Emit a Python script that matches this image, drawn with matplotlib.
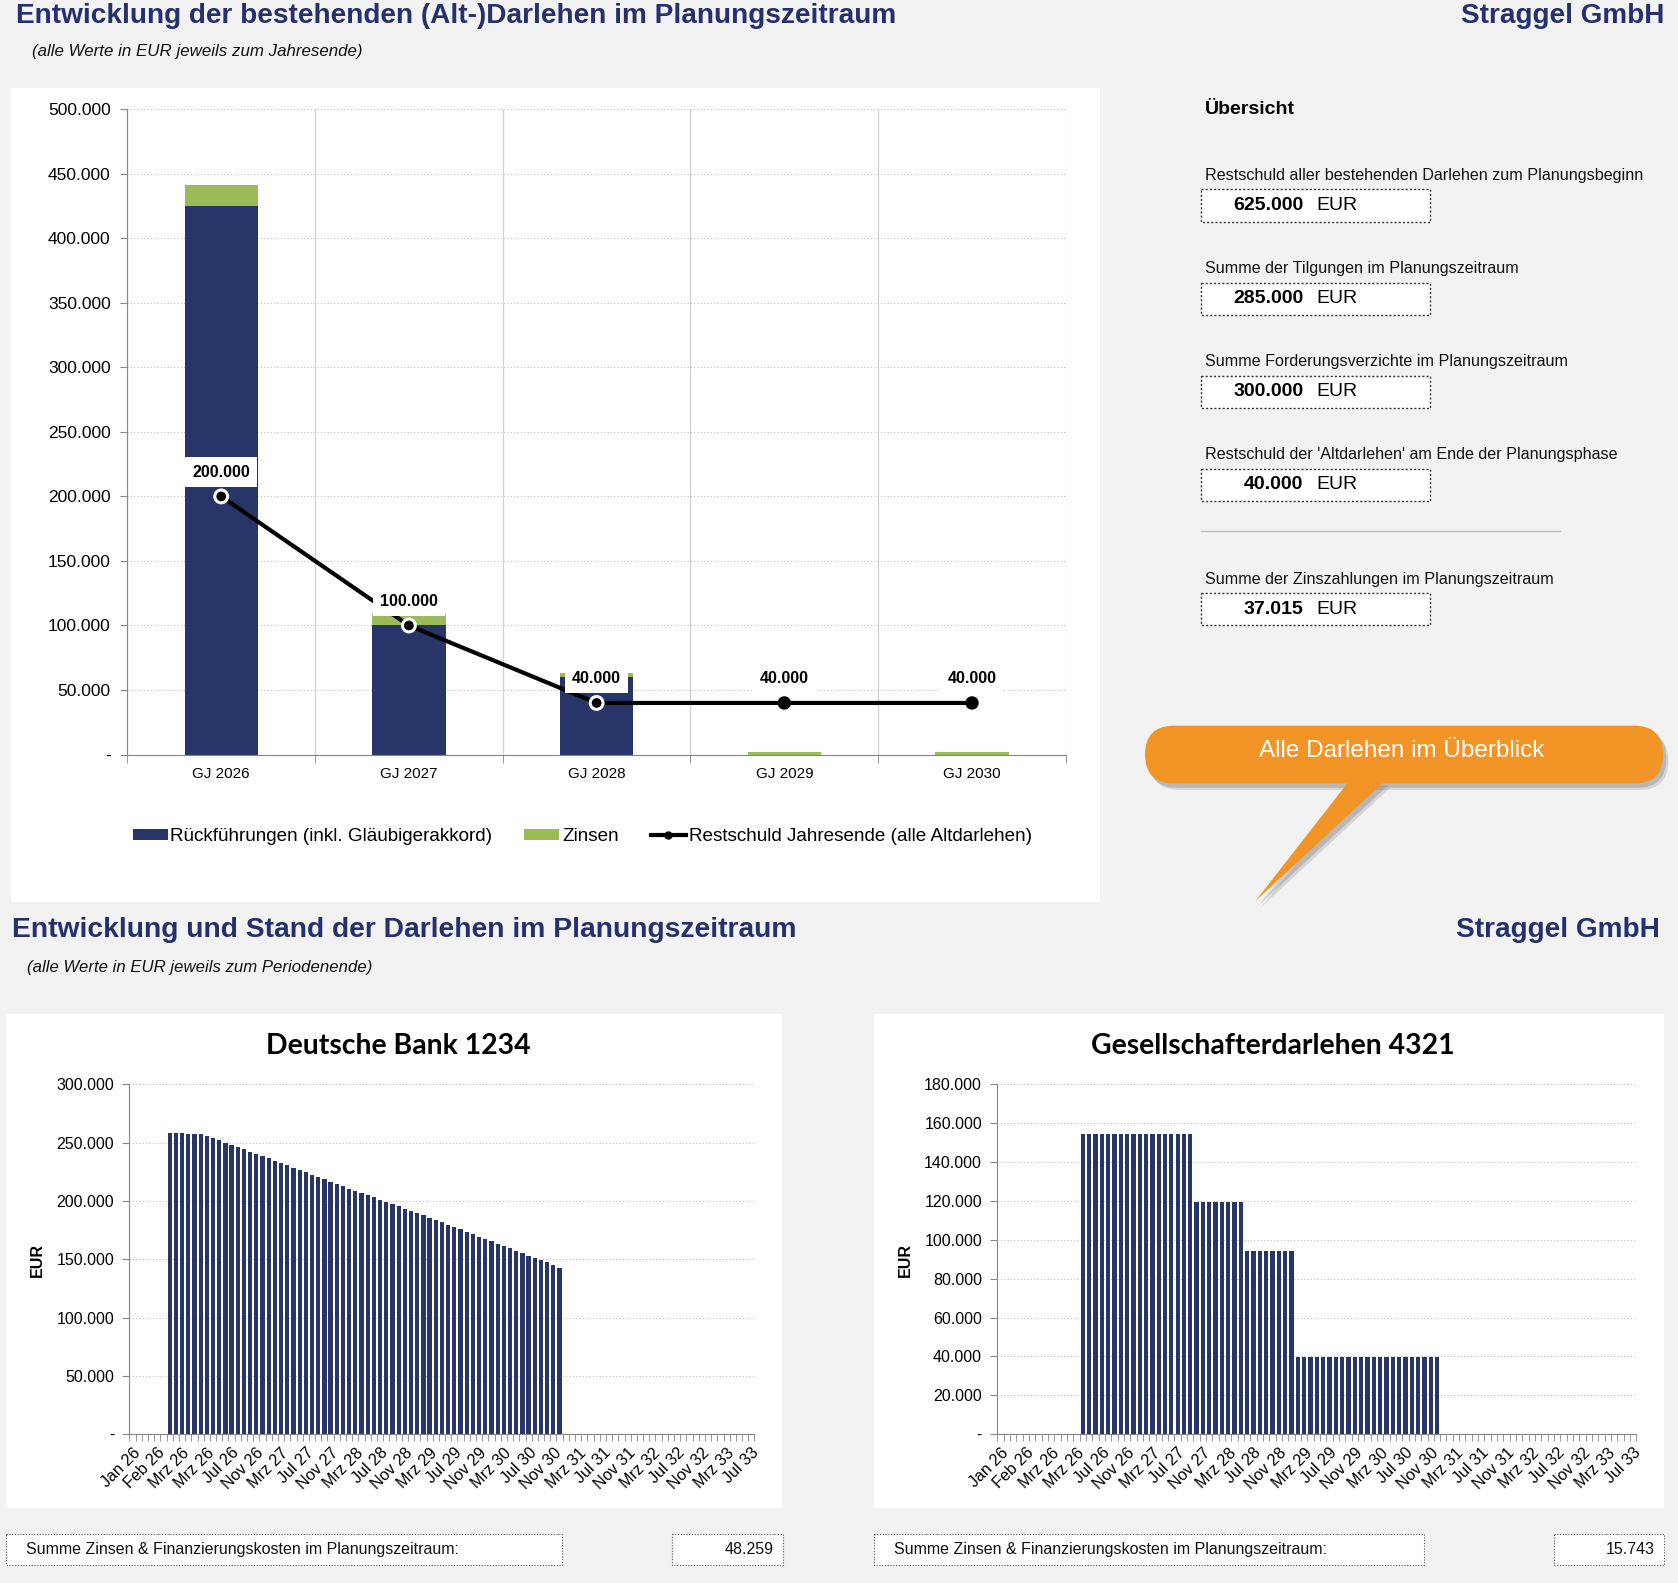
import matplotlib
matplotlib.use('Agg')
import matplotlib.pyplot as plt
from matplotlib.patches import Rectangle, FancyBboxPatch, Polygon
from matplotlib.lines import Line2D
from matplotlib.ticker import FuncFormatter
import numpy as np

plt.rcParams['font.family'] = ['Liberation Sans', 'DejaVu Sans']

# ---------------- data ----------------
years = ["GJ 2026", "GJ 2027", "GJ 2028", "GJ 2029", "GJ 2030"]
rueckfuehrungen = [425000, 100000, 60000, 0, 0]
zinsen = [16000, 8800, 3000, 2300, 2300]
restschuld = [200000, 100000, 40000, 40000, 40000]

legend_labels = ["Rückführungen (inkl. Gläubigerakkord)", "Zinsen",
                 "Restschuld Jahresende (alle Altdarlehen)"]

overview_labels = ["Restschuld aller bestehenden Darlehen zum Planungsbeginn",
                   "Summe der Tilgungen im Planungszeitraum",
                   "Summe Forderungsverzichte im Planungszeitraum",
                   "Restschuld der 'Altdarlehen' am Ende der Planungsphase",
                   "Summe der Zinszahlungen im Planungszeitraum"]
overview_values = ["625.000", "285.000", "300.000", "40.000", "37.015"]

month_labels = ["Jan 26", "Feb 26", "Mrz 26", "Mrz 26", "Jul 26", "Nov 26",
                "Mrz 27", "Jul 27", "Nov 27", "Mrz 28", "Jul 28", "Nov 28",
                "Mrz 29", "Jul 29", "Nov 29", "Mrz 30", "Jul 30", "Nov 30",
                "Mrz 31", "Jul 31", "Nov 31", "Mrz 32", "Jul 32", "Nov 32",
                "Mrz 33", "Jul 33"]
n_periods = 101
label_step = 4

db_title = "Deutsche Bank 1234"
db_start = 6
db_values = [258000, 258000, 258000, 257100, 257100, 257100, 255400, 253700, 252000, 249400,
             247700, 246000, 244300, 241700, 240000, 238300, 236600, 234000, 232300, 230600,
             228100, 226400, 224600, 222100, 220400, 218700, 216100, 214400, 212700, 210100,
             208400, 206700, 205000, 203300, 200700, 199000, 197300, 195600, 193000, 191300,
             189600, 187900, 185300, 183600, 181900, 179300, 177600, 175900, 173400, 171700,
             169100, 167400, 165700, 163100, 161400, 159700, 157100, 155400, 152800, 151100,
             149300, 147300, 145000, 142500]
db_sum = "48.259"

gs_title = "Gesellschafterdarlehen 4321"
gs_start = 13
gs_values = [154500, 154500, 154500, 154500, 154500, 154500, 154500, 154500, 154500,
             154500, 154500, 154500, 154500, 154500, 154500, 154500, 154500, 154500,
             119500, 119500, 119500, 119500, 119500, 119500, 119500, 119500,
             94000, 94000, 94000, 94000, 94000, 94000, 94000, 94000,
             39800, 39800, 39800, 39800, 39800, 39800, 39800, 39800, 39800, 39800,
             39800, 39800, 39800, 39800, 39800, 39800, 39800, 39800, 39800, 39800,
             39800, 39800, 39800]
gs_sum = "15.743"
sum_label = "Summe Zinsen & Finanzierungskosten im Planungszeitraum:"

# ---------------- style ----------------
NAVY = '#283569'
GREEN = '#9BBB59'
TITLE = '#25316A'
GRAY = '#868686'
GRID = '#BFBFBF'
BG = '#F2F2F2'
ORANGE = '#F39426'

W, H = 1568.0, 1479.0  # layout reference units


def rect(x0, y0, x1, y1):
    return [x0 / W, 1 - y1 / H, (x1 - x0) / W, (y1 - y0) / H]


def de(v, p=None):
    if abs(v) < 1e-9:
        return '-'
    return f"{v:,.0f}".replace(',', '.')


fig = plt.figure(figsize=(16.78, 15.83), dpi=100, facecolor=BG)
bg = fig.add_axes([0, 0, 1, 1], zorder=-10)
bg.set_xlim(0, W)
bg.set_ylim(H, 0)
bg.axis('off')

# panels
for (x0, y0, x1, y1) in [(10, 82, 1028, 843), (6, 947, 731, 1409), (817, 947, 1555, 1409)]:
    bg.add_patch(Rectangle((x0, y0), x1 - x0, y1 - y0, fc='white', ec='none'))

# headings
bg.text(15, 15, "Entwicklung der bestehenden (Alt-)Darlehen im Planungszeitraum",
        fontsize=20.2, fontweight='bold', color=TITLE, va='center', ha='left')
bg.text(1555, 15, "Straggel GmbH", fontsize=20.1, fontweight='bold', color=TITLE,
        va='center', ha='right')
bg.text(30, 48, "(alle Werte in EUR jeweils zum Jahresende)", fontsize=12.2,
        style='italic', va='center', ha='left', color='#111111')
bg.text(11, 869, "Entwicklung und Stand der Darlehen im Planungszeitraum",
        fontsize=20.3, fontweight='bold', color=TITLE, va='center', ha='left')
bg.text(1551, 869, "Straggel GmbH", fontsize=20.2, fontweight='bold', color=TITLE,
        va='center', ha='right')
bg.text(25, 904, "(alle Werte in EUR jeweils zum Periodenende)", fontsize=12.1,
        style='italic', va='center', ha='left', color='#111111')

# ---------------- top chart ----------------
ax = fig.add_axes(rect(119, 102, 996, 705))
x = np.arange(len(years))
ax.bar(x, rueckfuehrungen, width=0.39, color=NAVY, zorder=2)
ax.bar(x, zinsen, bottom=rueckfuehrungen, width=0.39, color=GREEN, zorder=2)
ax.plot(x, restschuld, color='black', lw=3, zorder=3)
on_bar = [r >= v for r, v in zip(rueckfuehrungen, restschuld)]
edge = ['white' if b else 'black' for b in on_bar]
sizes = [85 if b else 55 for b in on_bar]
ax.scatter(x, restschuld, s=sizes, c='black', edgecolors=edge, linewidths=2.2, zorder=4)
for xi, v in zip(x, restschuld):
    ax.annotate(de(v), (xi, v), xytext=(0, 17.5), textcoords='offset points',
                ha='center', va='center', fontsize=11.5, fontweight='bold',
                bbox=dict(boxstyle='square,pad=0.45', fc='white', ec='none'), zorder=5)
ax.set_xlim(-0.5, len(years) - 0.5)
ax.set_ylim(0, 500000)
ax.set_yticks(np.arange(0, 500001, 50000))
ax.yaxis.set_major_formatter(FuncFormatter(de))
ax.set_xticks(x)
ax.set_xticklabels(years)
ax.set_xticks(np.arange(-0.5, len(years), 1), minor=True)
ax.tick_params(axis='x', which='major', length=0, labelsize=11, pad=9)
ax.tick_params(axis='x', which='minor', length=6, color=GRAY, direction='out')
ax.tick_params(axis='y', length=5, color=GRAY, labelsize=12.5, pad=7)
ax.grid(axis='y', color=GRID, lw=0.8, ls=(0, (1, 2)), zorder=0)
ax.grid(axis='x', which='minor', color='#D0D0D0', lw=0.9, ls='-', zorder=0)
ax.set_axisbelow(True)
for s in ['top', 'right']:
    ax.spines[s].set_visible(False)
for s in ['left', 'bottom']:
    ax.spines[s].set_color(GRAY)

handles = [Rectangle((0, 0), 1, 1, fc=NAVY, ec='none'),
           Rectangle((0, 0), 1, 1, fc=GREEN, ec='none'),
           Line2D([], [], color='black', lw=3, marker='o', markersize=5)]
fig.legend(handles, legend_labels, loc='center', bbox_to_anchor=(544 / W, 1 - 782 / H),
           ncol=3, frameon=False, fontsize=13.6, handlelength=1.85, handleheight=0.55,
           handletextpad=0.15, columnspacing=1.7)

# ---------------- overview panel ----------------
bg.text(1126, 102, "Übersicht", fontsize=14, fontweight='bold', va='center', ha='left')
label_y = [164, 251, 338, 425, 541]
for lab, val, ly in zip(overview_labels, overview_values, label_y):
    bg.text(1126, ly, lab, fontsize=11.6, va='center', ha='left', color='#111111')
    by = ly + 13
    bg.add_patch(Rectangle((1122, by), 214, 30, fc='white', ec='#333333', lw=1, ls=(0, (1.5, 1.5))))
    bg.text(1218, by + 15, val, fontsize=14, fontweight='bold', va='center', ha='right')
    bg.text(1230, by + 15, "EUR", fontsize=14, va='center', ha='left')
bg.plot([1122, 1458], [496, 496], color='#BFBFBF', lw=1)

# callout
for off, a in [((5, 6), 0.25), ((3, 4), 0.35)]:
    bg.add_patch(FancyBboxPatch((1070 + off[0], 678 + off[1]), 484, 54,
                                boxstyle="round,pad=0,rounding_size=27",
                                fc='#7F7F7F', ec='none', alpha=a))
    bg.add_patch(Polygon([(1264 + off[0], 730 + off[1]), (1294 + off[0], 730 + off[1]),
                          (1173 + off[0], 842 + off[1])], closed=True, fc='#7F7F7F',
                         ec='none', alpha=a))
bg.add_patch(Polygon([(1262, 728), (1296, 728), (1173, 842)], closed=True, fc=ORANGE, ec='none'))
bg.add_patch(FancyBboxPatch((1070, 678), 484, 54, boxstyle="round,pad=0,rounding_size=27",
                            fc=ORANGE, ec='none'))
bg.text(1310, 702, "Alle Darlehen im Überblick", fontsize=17.5, color='white',
        va='center', ha='center')


# ---------------- monthly charts ----------------
def month_chart(box, panel_cx, ylab_x, title, values, start, ymax, ystep):
    a = fig.add_axes(rect(*box))
    idx = np.arange(start, start + len(values))
    a.bar(idx, values, width=0.68, color=NAVY, zorder=2)
    a.set_xlim(-0.5, n_periods - 0.5)
    a.set_ylim(0, ymax)
    a.set_yticks(np.arange(0, ymax + 1, ystep))
    a.yaxis.set_major_formatter(FuncFormatter(de))
    a.set_xticks(np.arange(0, n_periods, label_step))
    a.set_xticklabels(month_labels, rotation=45, ha='right', va='top',
                      rotation_mode='anchor')
    a.set_xticks(np.arange(-0.5, n_periods, 1), minor=True)
    a.tick_params(axis='x', which='major', length=0, labelsize=11.6, pad=8)
    a.tick_params(axis='x', which='minor', length=5, color=GRAY, direction='out')
    a.tick_params(axis='y', length=5, color=GRAY, labelsize=11.5, pad=6)
    a.grid(axis='y', color=GRID, lw=0.8, ls=(0, (1, 2)), zorder=0)
    a.set_axisbelow(True)
    for s in ['top', 'right']:
        a.spines[s].set_visible(False)
    for s in ['left', 'bottom']:
        a.spines[s].set_color(GRAY)
    bg.text(panel_cx, 977, title, fontsize=20.4, fontweight='bold', va='center',
            ha='center', family=['Lato', 'DejaVu Sans'])
    bg.text(ylab_x, 1177, "EUR", fontsize=11.5, fontweight='bold', rotation=90,
            va='center', ha='center')
    return a


month_chart((121, 1013, 705, 1340), 372, 35, db_title, db_values, db_start, 300000, 50000)
month_chart((932, 1013, 1529, 1340), 1189, 846, gs_title, gs_values, gs_start, 180000, 20000)

# sum boxes
for (lx0, lx1, vx0, vx1, val) in [(6, 525, 628, 732, db_sum), (817, 1331, 1452, 1555, gs_sum)]:
    bg.add_patch(Rectangle((lx0, 1433), lx1 - lx0, 29, fc='white', ec='#555555', lw=0.8,
                           ls=(0, (1, 1.5))))
    bg.add_patch(Rectangle((vx0, 1433), vx1 - vx0, 29, fc='white', ec='#555555', lw=0.8,
                           ls=(0, (1, 1.5))))
    bg.text(lx0 + 18, 1448, sum_label, fontsize=11.5, va='center', ha='left', color='#111111')
    bg.text(vx1 - 9, 1448, val, fontsize=11.5, va='center', ha='right', color='#111111')

fig.savefig('out.png', dpi=100, facecolor=BG)
